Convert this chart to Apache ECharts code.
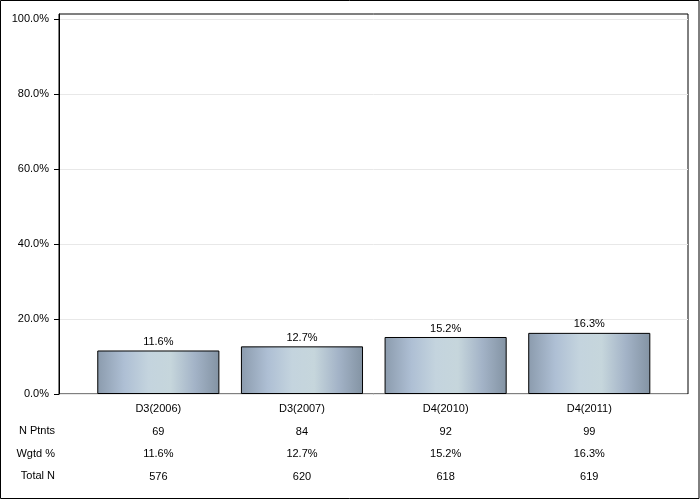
<!DOCTYPE html>
<html>
<head>
<meta charset="utf-8">
<script src="https://cdn.jsdelivr.net/npm/echarts@6/dist/echarts.min.js"></script>
<style>
html,body{margin:0;padding:0;background:#fff;}
#chart{width:700px;height:500px;}
</style>
</head>
<body>
<div id="chart"></div>
<script>
const categories = ['D3(2006)', 'D3(2007)', 'D4(2010)', 'D4(2011)'];
const wgtdPct = [11.6, 12.7, 15.2, 16.3];
const nPatients = [69, 84, 92, 99];
const totalN = [576, 620, 618, 619];
const rowLabels = ['N Ptnts', 'Wgtd %', 'Total N'];
const yTicks = [0, 20, 40, 60, 80, 100];

const FONT = '"Liberation Sans", Arial, sans-serif';
const plotTop = 14, plotBottom = 106;
const yMax = 101.33;
const rowY = [431, 453.5, 476];

const chart = echarts.init(document.getElementById('chart'), null, {renderer: 'canvas'});

const barGradient = new echarts.graphic.LinearGradient(0, 0, 1, 0, [
  {offset: 0, color: '#8b9bad'},
  {offset: 0.22, color: '#aebfd4'},
  {offset: 0.42, color: '#c4d4de'},
  {offset: 0.6, color: '#c6d6dc'},
  {offset: 0.8, color: '#a3b3c7'},
  {offset: 1, color: '#8393a3'}
]);

const option = {
  backgroundColor: '#ffffff',
  animation: false,
  textStyle: {fontFamily: FONT},
  grid: [
    {left: 59, right: 12, top: plotTop, bottom: plotBottom, show: true, borderColor: '#000', borderWidth: 1, backgroundColor: 'transparent'},
    {left: 86.5, right: 38.9, top: plotTop, bottom: plotBottom}
  ],
  xAxis: [
    {gridIndex: 0, type: 'value', show: false, min: 0, max: 1},
    {
      gridIndex: 1, type: 'category', data: categories,
      axisLine: {show: false}, axisTick: {show: false},
      axisLabel: {
        margin: 4, interval: 0, color: '#000', fontFamily: FONT, fontSize: 11,
        formatter: function (v, i) {
          return '{c|' + v + '}\n{r|' + nPatients[i] + '}\n{r|' + wgtdPct[i].toFixed(1) + '%}\n{r|' + totalN[i] + '}';
        },
        rich: {
          c: {lineHeight: 22.5, fontSize: 11, color: '#000', fontFamily: FONT},
          r: {lineHeight: 22.5, fontSize: 11, color: '#000', fontFamily: FONT}
        }
      }
    }
  ],
  yAxis: [
    {
      gridIndex: 0, type: 'value', min: 0, max: yMax, interval: 20,
      axisLine: {show: true, lineStyle: {color: '#000', width: 1}},
      axisTick: {show: true, length: 5, lineStyle: {color: '#000'}, customValues: yTicks},
      axisLabel: {
        margin: 10, color: '#000', fontSize: 11, fontFamily: FONT,
        customValues: yTicks,
        formatter: function (v) { return v.toFixed(1) + '%'; }
      },
      splitLine: {show: true, lineStyle: {color: '#e8e8e8', width: 1}}
    },
    {gridIndex: 1, type: 'value', min: 0, max: yMax, show: false, splitLine: {show: false}}
  ],
  series: [{
    type: 'bar',
    xAxisIndex: 1, yAxisIndex: 1,
    data: wgtdPct,
    barWidth: '85%',
    itemStyle: {color: barGradient, borderColor: '#000', borderWidth: 1},
    label: {
      show: true, position: 'top', distance: 3, color: '#000', fontSize: 11, fontFamily: FONT,
      formatter: function (p) { return p.value.toFixed(1) + '%'; }
    }
  }],
  graphic: [
    {type: 'rect', shape: {x: 0.5, y: 0.5, width: 698.5, height: 498}, style: {fill: 'none', stroke: '#000', lineWidth: 1}, silent: true}
  ].concat(rowLabels.map(function (t, i) {
    return {type: 'text', x: 55, y: rowY[i], style: {text: t, fill: '#000', font: '11px ' + FONT, textAlign: 'right', textVerticalAlign: 'middle'}, silent: true};
  }))
};

chart.setOption(option);
</script>
</body>
</html>
